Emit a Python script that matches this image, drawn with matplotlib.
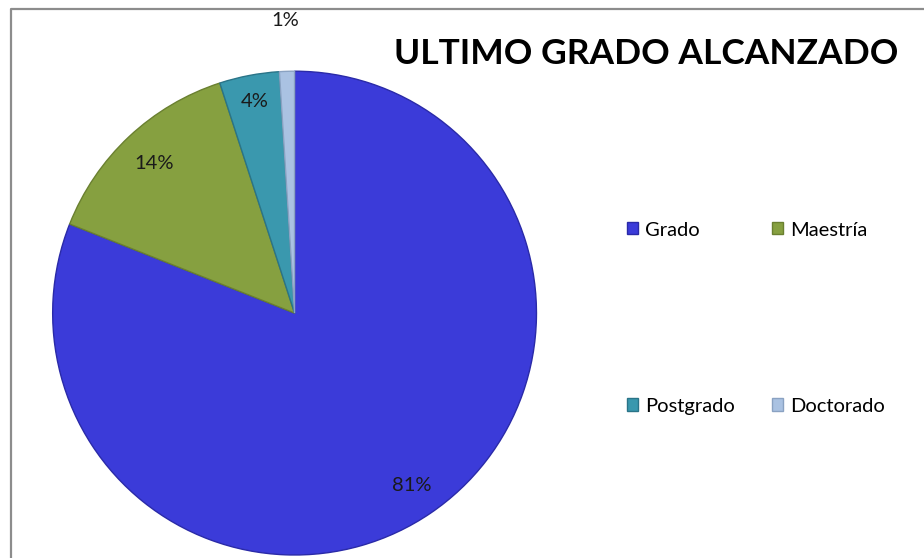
import numpy as np
import matplotlib.pyplot as plt
from matplotlib.lines import Line2D

plt.rcParams['font.family'] = ['Lato', 'DejaVu Sans']

labels = ['Grado', 'Maestría', 'Postgrado', 'Doctorado']
values = [81, 14, 4, 1]
pct_text = ['81%', '14%', '4%', '1%']
colors = ['#3b3bd9', '#86a040', '#3a98ae', '#aac2e2']
edges = ['#2a2aa8', '#6a8030', '#2a7488', '#8aa2c2']
label_r = [0.86, 0.85, 0.89, 1.21]

fig = plt.figure(figsize=(9.24, 5.58), dpi=100)
ax = fig.add_axes([0.0568, 0.0054, 0.524, 0.867])

wedges, _ = ax.pie(values, colors=colors, startangle=90, counterclock=False,
                   radius=1, wedgeprops=dict(linewidth=1.0))
for w, ec in zip(wedges, edges):
    w.set_edgecolor(ec)
ax.set_xlim(-1, 1)
ax.set_ylim(-1, 1)

for w, t, r in zip(wedges, pct_text, label_r):
    ang = np.deg2rad((w.theta1 + w.theta2) / 2)
    ax.text(r * np.cos(ang), r * np.sin(ang), t, ha='center', va='center',
            fontsize=14.5, color='#1a1a1a')

fig.text(0.699, 0.904, 'ULTIMO GRADO ALCANZADO', ha='center', va='center',
         fontsize=25.5, fontweight='bold', color='black')

# legend filled column-wise, so reorder to get Grado/Maestría on top row
order = [0, 2, 1, 3]
fig.legend([wedges[i] for i in order], [labels[i] for i in order], ncol=2,
           loc='center left', bbox_to_anchor=(0.659, 0.430), frameon=False,
           fontsize=14.5, labelspacing=7.9, columnspacing=1.85,
           handlelength=0.55, handleheight=0.55, handletextpad=0.35)

# chart border (top and left visible)
fig.add_artist(Line2D([11 / 924, 11 / 924, 1.0], [0.0, 1 - 9 / 558, 1 - 9 / 558],
                      transform=fig.transFigure, color='#8c8c8c', lw=1.6))

fig.savefig('out.png', dpi=100)
